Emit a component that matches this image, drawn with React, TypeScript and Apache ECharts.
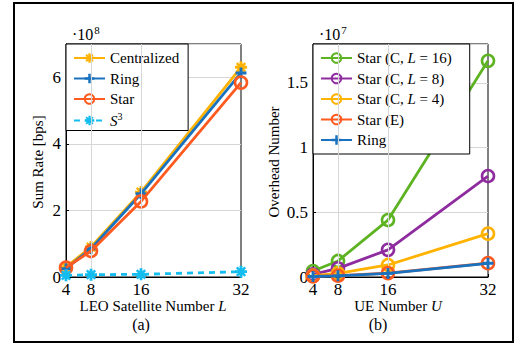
import React, { useEffect, useRef } from "react";
import * as echarts from "echarts";

// Panel (a): x = LEO satellite number L, y = sum rate (×1e8 bps)
const satNumbers = [4, 8, 16, 32];
const centralized = [0.3, 0.9, 2.55, 6.3];
const ring = [0.25, 0.85, 2.5, 6.13];
const star = [0.28, 0.78, 2.27, 5.84];
const s3 = [0.05, 0.07, 0.08, 0.16];

// Panel (b): x = UE number U, y = overhead number (×1e7)
const ueNumbers = [4, 8, 16, 32];
const starC16 = [0.046, 0.124, 0.44, 1.67];
const starC8 = [0.02, 0.067, 0.21, 0.78];
const starC4 = [0.01, 0.028, 0.093, 0.335];
const starE = [0.005, 0.01, 0.03, 0.107];
const ringB = [0.004, 0.009, 0.028, 0.106];

const legendA = ["Centralized", "Ring", "Star", "S3"];
const legendB = ["Star (C, L = 16)", "Star (C, L = 8)", "Star (C, L = 4)", "Star (E)", "Ring"];

const FONT = "Liberation Serif";
const C_YELLOW = "#FFB300";
const C_BLUE = "#1A72BE";
const C_ORANGE = "#FF5A1F";
const C_LBLUE = "#14BDF0";
const C_GREEN = "#5DB321";
const C_PURPLE = "#8E2C9F";

const PLUS = "path://M-1.3,-5L1.3,-5L1.3,5L-1.3,5ZM-5,-1.3L5,-1.3L5,1.3L-5,1.3Z";
const ASTER =
  "path://M-1.2,-5L1.2,-5L1.2,5L-1.2,5ZM-5,-1.2L5,-1.2L5,1.2L-5,1.2ZM-2.83,-4.24L4.24,2.83L2.83,4.24L-4.24,-2.83ZM2.83,-4.24L4.24,-2.83L-2.83,4.24L-4.24,2.83Z";

const zip = (xs: number[], ys: number[]) => xs.map((x, i) => [x, ys[i]]);

export default function App() {
  const ref = useRef<HTMLDivElement>(null);
  useEffect(() => {
    if (!ref.current) return;
    const chart = echarts.init(ref.current, null, { renderer: "svg" });
    const grids = [
      { left: 66, top: 44, width: 175, height: 233 },
      { left: 313, top: 44, width: 175, height: 233 },
    ];
    const xAxisBase = (gi: number, ticks: number[]) => ({
      type: "value",
      gridIndex: gi,
      min: 4,
      max: 32,
      interval: 4,
      axisLine: { lineStyle: { color: "#000", width: 1 } },
      axisTick: { inside: true, length: 3, customValues: ticks, lineStyle: { color: "#000" } },
      axisLabel: {
        customValues: ticks,
        margin: 4,
        fontFamily: FONT,
        fontSize: 17,
        color: "#000",
        formatter: (v: number) => (ticks.includes(v) ? String(v) : ""),
      },
      splitLine: { show: false },
    });
    const yAxisBase = (gi: number, max: number, interval: number) => ({
      type: "value",
      gridIndex: gi,
      min: 0,
      max,
      interval,
      axisLine: { show: true, lineStyle: { color: "#000", width: 1 } },
      axisTick: { show: true, inside: true, length: 3, lineStyle: { color: "#000" } },
      axisLabel: {
        showMaxLabel: false,
        margin: 5,
        fontFamily: FONT,
        fontSize: 17,
        color: "#000",
      },
      splitLine: { show: true, lineStyle: { color: "#d6d6d6", width: 1 } },
    });
    const vGrid = (vals: number[]) => ({
      silent: true,
      symbol: "none",
      label: { show: false },
      lineStyle: { color: "#d6d6d6", type: "solid", width: 1 },
      data: vals.map((v) => ({ xAxis: v })),
    });
    const circleSeries = (name: string, color: string, data: number[][], xi: number, extra: any = {}) => ({
      name,
      type: "line",
      xAxisIndex: xi,
      yAxisIndex: xi,
      data,
      symbol: "circle",
      symbolSize: 12,
      lineStyle: { color, width: 2.8 },
      itemStyle: { color: "transparent", borderColor: color, borderWidth: 2.6 },
      ...extra,
    });
    const rich = {
      n: { fontFamily: FONT, fontSize: 15, color: "#000", lineHeight: 16 },
      it: { fontFamily: FONT, fontStyle: "italic", fontSize: 15, color: "#000", lineHeight: 16 },
      sup: { fontFamily: FONT, fontSize: 10, color: "#000", padding: [0, 0, 8, 0] },
    };
    const txt = { fontFamily: FONT, fontSize: 15, color: "#000", lineHeight: 16, rich };
    const legendBase = {
      orient: "vertical",
      backgroundColor: "#fff",
      borderColor: "#000",
      borderWidth: 1,
      borderRadius: 0,
      itemWidth: 31,
      itemHeight: 12,
      itemGap: 4.5,
      selectedMode: false,
      textStyle: txt,
    };
    const legendFmt = (n: string) => {
      if (n === "S3") return "{it|S}{sup|3}";
      const m = n.match(/^Star \(C, L = (\d+)\)$/);
      if (m) return "{n|Star (C, }{it|L}{n| = " + m[1] + ")}";
      return "{n|" + n + "}";
    };

    const option: any = {
      animation: false,
      backgroundColor: "#fff",
      textStyle: { fontFamily: FONT },
      grid: grids.map((g) => ({ ...g, show: true, borderColor: "#000", borderWidth: 1, backgroundColor: "transparent" })),
      xAxis: [xAxisBase(0, satNumbers), xAxisBase(1, ueNumbers)],
      yAxis: [yAxisBase(0, 7, 2), yAxisBase(1, 1.8, 0.5)],
      legend: [
        {
          ...legendBase,
          left: 66,
          top: 44,
          padding: [6, 9, 2, 7],
          data: legendA.map((name) => ({ name, textStyle: txt })),
          formatter: legendFmt,
        },
        {
          ...legendBase,
          left: 313,
          top: 44,
          padding: [6, 18, 6, 7],
          data: legendB.map((name) => ({ name, textStyle: txt })),
          formatter: legendFmt,
        },
      ],
      series: [
        {
          name: "Centralized",
          type: "line",
          xAxisIndex: 0,
          yAxisIndex: 0,
          data: zip(satNumbers, centralized),
          symbol: ASTER,
          symbolSize: 12,
          lineStyle: { color: C_YELLOW, width: 2.8 },
          itemStyle: { color: C_YELLOW },
          markLine: vGrid([8, 16]),
          z: 2,
        },
        {
          name: "Ring",
          type: "line",
          xAxisIndex: 0,
          yAxisIndex: 0,
          data: zip(satNumbers, ring),
          symbol: PLUS,
          symbolSize: 11,
          lineStyle: { color: C_BLUE, width: 2.8 },
          itemStyle: { color: C_BLUE },
          z: 3,
        },
        circleSeries("Star", C_ORANGE, zip(satNumbers, star), 0, { z: 4 }),
        {
          name: "S3",
          type: "line",
          xAxisIndex: 0,
          yAxisIndex: 0,
          data: zip(satNumbers, s3),
          symbol: ASTER,
          symbolSize: 12,
          lineStyle: { color: C_LBLUE, width: 2.8, type: [6, 5] },
          itemStyle: { color: C_LBLUE },
          z: 5,
        },
        circleSeries("Star (C, L = 16)", C_GREEN, zip(ueNumbers, starC16), 1, { markLine: vGrid([8, 16]), z: 2 }),
        circleSeries("Star (C, L = 8)", C_PURPLE, zip(ueNumbers, starC8), 1, { z: 3 }),
        circleSeries("Star (C, L = 4)", C_YELLOW, zip(ueNumbers, starC4), 1, { z: 4 }),
        circleSeries("Star (E)", C_ORANGE, zip(ueNumbers, starE), 1, { z: 5 }),
        {
          name: "Ring",
          type: "line",
          xAxisIndex: 1,
          yAxisIndex: 1,
          data: zip(ueNumbers, ringB),
          symbol: PLUS,
          symbolSize: 11,
          lineStyle: { color: C_BLUE, width: 2.8 },
          itemStyle: { color: C_BLUE },
          z: 6,
        },
      ],
      graphic: [
        {
          type: "rect",
          shape: { x: 14, y: 3, width: 499, height: 339 },
          style: { fill: "none", stroke: "#000", lineWidth: 2 },
          z: 0,
        },
        {
          type: "text",
          x: 72,
          y: 24,
          style: {
            text: "·10{s|8}",
            fontFamily: FONT,
            fontSize: 16,
            fill: "#000",
            rich: { s: { fontFamily: FONT, fontSize: 11, padding: [0, 0, 9, 1] } },
          },
        },
        {
          type: "text",
          x: 319,
          y: 24,
          style: {
            text: "·10{s|7}",
            fontFamily: FONT,
            fontSize: 16,
            fill: "#000",
            rich: { s: { fontFamily: FONT, fontSize: 11, padding: [0, 0, 9, 1] } },
          },
        },
        {
          type: "text",
          x: 38,
          y: 162,
          rotation: Math.PI / 2,
          style: { text: "Sum Rate [bps]", fontFamily: FONT, fontSize: 15, fill: "#000", align: "center", verticalAlign: "middle" },
        },
        {
          type: "text",
          x: 274,
          y: 162,
          rotation: Math.PI / 2,
          style: { text: "Overhead Number", fontFamily: FONT, fontSize: 15, fill: "#000", align: "center", verticalAlign: "middle" },
        },
        {
          type: "text",
          x: 153,
          y: 306,
          style: {
            text: "LEO Satellite Number {i|L}",
            fontFamily: FONT,
            fontSize: 15,
            fill: "#000",
            align: "center",
            verticalAlign: "middle",
            rich: { i: { fontFamily: FONT, fontStyle: "italic", fontSize: 15 } },
          },
        },
        {
          type: "text",
          x: 398,
          y: 306,
          style: {
            text: "UE Number {i|U}",
            fontFamily: FONT,
            fontSize: 15,
            fill: "#000",
            align: "center",
            verticalAlign: "middle",
            rich: { i: { fontFamily: FONT, fontStyle: "italic", fontSize: 15 } },
          },
        },
        {
          type: "text",
          x: 141,
          y: 324,
          style: { text: "(a)", fontFamily: FONT, fontSize: 16, fill: "#000", align: "center", verticalAlign: "middle" },
        },
        {
          type: "text",
          x: 378,
          y: 324,
          style: { text: "(b)", fontFamily: FONT, fontSize: 16, fill: "#000", align: "center", verticalAlign: "middle" },
        },
      ],
    };
    chart.setOption(option);
    return () => chart.dispose();
  }, []);
  return (
    <div
      ref={ref}
      style={{ position: "fixed", left: 0, top: 0, width: 528, height: 354, background: "#fff" }}
    />
  );
}
